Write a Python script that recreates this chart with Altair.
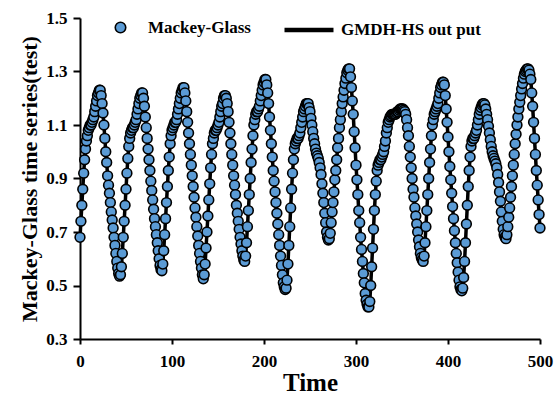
import altair as alt
import pandas as pd

# Mackey-Glass test series, one value per time step (t = 0..500)
mg_values = [
    0.68, 0.74, 0.80, 0.86, 0.92, 0.97, 1.01, 1.04, 1.06, 1.08,          # 0
    1.09, 1.10, 1.10, 1.11, 1.12, 1.13, 1.15, 1.17, 1.19, 1.21,          # 10
    1.22, 1.23, 1.23, 1.21, 1.18, 1.145, 1.10, 1.05, 1.00, 0.96,         # 20
    0.91, 0.875, 0.845, 0.81, 0.775, 0.745, 0.715, 0.68, 0.65, 0.62,     # 30
    0.59, 0.565, 0.545, 0.535, 0.54, 0.57, 0.62, 0.68, 0.74, 0.80,       # 40
    0.86, 0.92, 0.975, 1.02, 1.05, 1.07, 1.08, 1.09, 1.09, 1.10,         # 50
    1.11, 1.12, 1.14, 1.16, 1.18, 1.20, 1.21, 1.22, 1.22, 1.20,          # 60
    1.17, 1.13, 1.09, 1.05, 1.01, 0.97, 0.93, 0.89, 0.855, 0.82,         # 70
    0.785, 0.75, 0.72, 0.69, 0.66, 0.63, 0.60, 0.575, 0.56, 0.555,       # 80
    0.58, 0.63, 0.69, 0.75, 0.81, 0.87, 0.93, 0.98, 1.03, 1.06,          # 90
    1.08, 1.09, 1.10, 1.11, 1.11, 1.12, 1.14, 1.16, 1.18, 1.20,          # 100
    1.22, 1.23, 1.24, 1.24, 1.22, 1.19, 1.15, 1.11, 1.07, 1.03,          # 110
    0.99, 0.95, 0.91, 0.87, 0.83, 0.79, 0.755, 0.72, 0.685, 0.65,        # 120
    0.62, 0.59, 0.565, 0.54, 0.525, 0.54, 0.58, 0.64, 0.70, 0.76,        # 130
    0.82, 0.88, 0.94, 0.99, 1.03, 1.05, 1.07, 1.08, 1.08, 1.09,          # 140
    1.10, 1.11, 1.13, 1.15, 1.17, 1.18, 1.20, 1.21, 1.21, 1.20,          # 150
    1.18, 1.15, 1.11, 1.07, 1.03, 0.99, 0.95, 0.91, 0.875, 0.84,         # 160
    0.80, 0.77, 0.74, 0.71, 0.68, 0.655, 0.63, 0.61, 0.595, 0.59,        # 170
    0.61, 0.66, 0.72, 0.78, 0.84, 0.90, 0.96, 1.01, 1.06, 1.10,          # 180
    1.12, 1.14, 1.15, 1.15, 1.16, 1.17, 1.19, 1.21, 1.23, 1.25,          # 190
    1.26, 1.27, 1.27, 1.25, 1.22, 1.18, 1.13, 1.08, 1.03, 0.98,          # 200
    0.93, 0.89, 0.85, 0.81, 0.77, 0.73, 0.69, 0.65, 0.61, 0.575,         # 210
    0.54, 0.51, 0.495, 0.485, 0.49, 0.52, 0.58, 0.65, 0.72, 0.79,        # 220
    0.86, 0.92, 0.97, 1.01, 1.03, 1.04, 1.05, 1.05, 1.06, 1.07,          # 230
    1.09, 1.11, 1.13, 1.15, 1.16, 1.17, 1.18, 1.18, 1.18, 1.165,         # 240
    1.15, 1.125, 1.10, 1.075, 1.05, 1.03, 1.01, 0.995, 0.985, 0.975,     # 250
    0.96, 0.94, 0.915, 0.88, 0.845, 0.81, 0.77, 0.735, 0.70, 0.68,       # 260
    0.67, 0.675, 0.695, 0.735, 0.775, 0.81, 0.85, 0.895, 0.93, 0.97,     # 270
    1.015, 1.05, 1.09, 1.12, 1.15, 1.18, 1.205, 1.23, 1.255, 1.275,      # 280
    1.295, 1.305, 1.31, 1.31, 1.28, 1.24, 1.19, 1.14, 1.075, 1.015,      # 290
    0.95, 0.895, 0.84, 0.78, 0.735, 0.68, 0.635, 0.59, 0.545, 0.51,      # 300
    0.47, 0.445, 0.43, 0.42, 0.42, 0.44, 0.50, 0.57, 0.64, 0.71,         # 310
    0.78, 0.84, 0.89, 0.93, 0.95, 0.96, 0.97, 0.97, 0.98, 0.99,          # 320
    1.00, 1.02, 1.04, 1.07, 1.09, 1.11, 1.12, 1.13, 1.135, 1.14,         # 330
    1.14, 1.14, 1.14, 1.14, 1.145, 1.15, 1.15, 1.155, 1.16, 1.16,        # 340
    1.16, 1.16, 1.155, 1.15, 1.14, 1.12, 1.09, 1.06, 1.02, 0.98,         # 350
    0.94, 0.90, 0.86, 0.83, 0.79, 0.76, 0.73, 0.70, 0.67, 0.645,         # 360
    0.62, 0.605, 0.595, 0.59, 0.61, 0.66, 0.72, 0.78, 0.84, 0.90,        # 370
    0.96, 1.01, 1.06, 1.10, 1.12, 1.14, 1.15, 1.16, 1.17, 1.18,          # 380
    1.20, 1.22, 1.24, 1.25, 1.26, 1.26, 1.25, 1.21, 1.16, 1.11,          # 390
    1.055, 1.00, 0.945, 0.895, 0.845, 0.795, 0.75, 0.705, 0.66, 0.62,    # 400
    0.585, 0.55, 0.52, 0.495, 0.485, 0.48, 0.49, 0.53, 0.59, 0.66,       # 410
    0.73, 0.80, 0.87, 0.93, 0.98, 1.02, 1.04, 1.05, 1.05, 1.06,          # 420
    1.07, 1.08, 1.10, 1.12, 1.14, 1.155, 1.165, 1.175, 1.18, 1.18,       # 430
    1.175, 1.16, 1.14, 1.12, 1.095, 1.07, 1.045, 1.02, 1.00, 0.985,      # 440
    0.975, 0.965, 0.955, 0.94, 0.915, 0.885, 0.85, 0.815, 0.775, 0.74,   # 450
    0.71, 0.69, 0.68, 0.675, 0.69, 0.72, 0.755, 0.79, 0.83, 0.87,        # 460
    0.91, 0.95, 0.99, 1.03, 1.065, 1.10, 1.13, 1.16, 1.185, 1.21,        # 470
    1.235, 1.255, 1.275, 1.29, 1.30, 1.305, 1.31, 1.31, 1.305, 1.29,     # 480
    1.27, 1.22, 1.17, 1.11, 1.05, 0.99, 0.93, 0.875, 0.82, 0.765, 0.715, # 490
]
# GMDH-HS output: visually indistinguishable from the series it models
gmdh_values = list(mg_values)
time_steps = list(range(len(mg_values)))

x_ticks = [0, 100, 200, 300, 400, 500]
y_ticks = [0.3, 0.5, 0.7, 0.9, 1.1, 1.3, 1.5]

MG = "Mackey-Glass"
GM = "GMDH-HS out put"
FONT = "Liberation Serif"

df_mg = pd.DataFrame({"Time": time_steps, "value": mg_values, "series": MG})
df_gm = pd.DataFrame({"Time": time_steps, "value": gmdh_values, "series": GM})

x_enc = alt.X(
    "Time:Q",
    scale=alt.Scale(domain=[0, 500], nice=False),
    axis=alt.Axis(values=x_ticks, title="Time", format="d", labelFlush=False),
)
y_enc = alt.Y(
    "value:Q",
    scale=alt.Scale(domain=[0.3, 1.5], nice=False, zero=False),
    axis=alt.Axis(values=y_ticks, title="Mackey-Glass time series(test)",
                  format=".1f", labelFlush=False),
)

line = alt.Chart(df_gm).mark_line(strokeWidth=3.5).encode(
    x=x_enc,
    y=y_enc,
    color=alt.Color(
        "series:N",
        scale=alt.Scale(domain=[GM], range=["black"]),
        legend=alt.Legend(
            orient="none", legendX=202, legendY=-15, title=None,
            symbolType="stroke", symbolSize=2400, symbolStrokeWidth=4.5,
            symbolStrokeColor="black",
            labelFont=FONT, labelFontSize=17, labelFontWeight="bold",
            labelColor="black", labelOffset=5,
        ),
    ),
)

points = alt.Chart(df_mg).mark_circle(
    size=95, opacity=1, stroke="black", strokeWidth=1.6
).encode(
    x=x_enc,
    y=y_enc,
    fill=alt.Fill(
        "series:N",
        scale=alt.Scale(domain=[MG], range=["#5B9BD5"]),
        legend=alt.Legend(
            orient="none", legendX=32, legendY=1, title=None,
            symbolType="circle", symbolSize=110, symbolStrokeWidth=1.6,
            symbolStrokeColor="black", symbolFillColor="#5B9BD5",
            labelFont=FONT, labelFontSize=17, labelFontWeight="bold",
            labelColor="black", labelOffset=19,
        ),
    ),
)

chart = (
    alt.layer(line, points)
    .properties(
        width=460,
        height=321,
        autosize=alt.AutoSizeParams(type="none"),
        padding={"left": 80, "top": 18, "right": 16, "bottom": 58},
    )
    .configure_view(stroke=None)
    .configure_axis(
        grid=False,
        domainColor="black",
        domainWidth=2,
        tickColor="black",
        tickWidth=2,
        labelFont=FONT,
        labelFontWeight="bold",
        labelColor="black",
        labelFontSize=17,
        titleFont=FONT,
        titleFontWeight="bold",
        titleColor="black",
    )
    .configure_axisX(tickSize=5, labelPadding=9, titleFontSize=25, titlePadding=1)
    .configure_axisY(tickSize=7, labelPadding=6, titleFontSize=22, titlePadding=4)
)

chart.save("out.html", embed_options={"renderer": "svg", "actions": False})
